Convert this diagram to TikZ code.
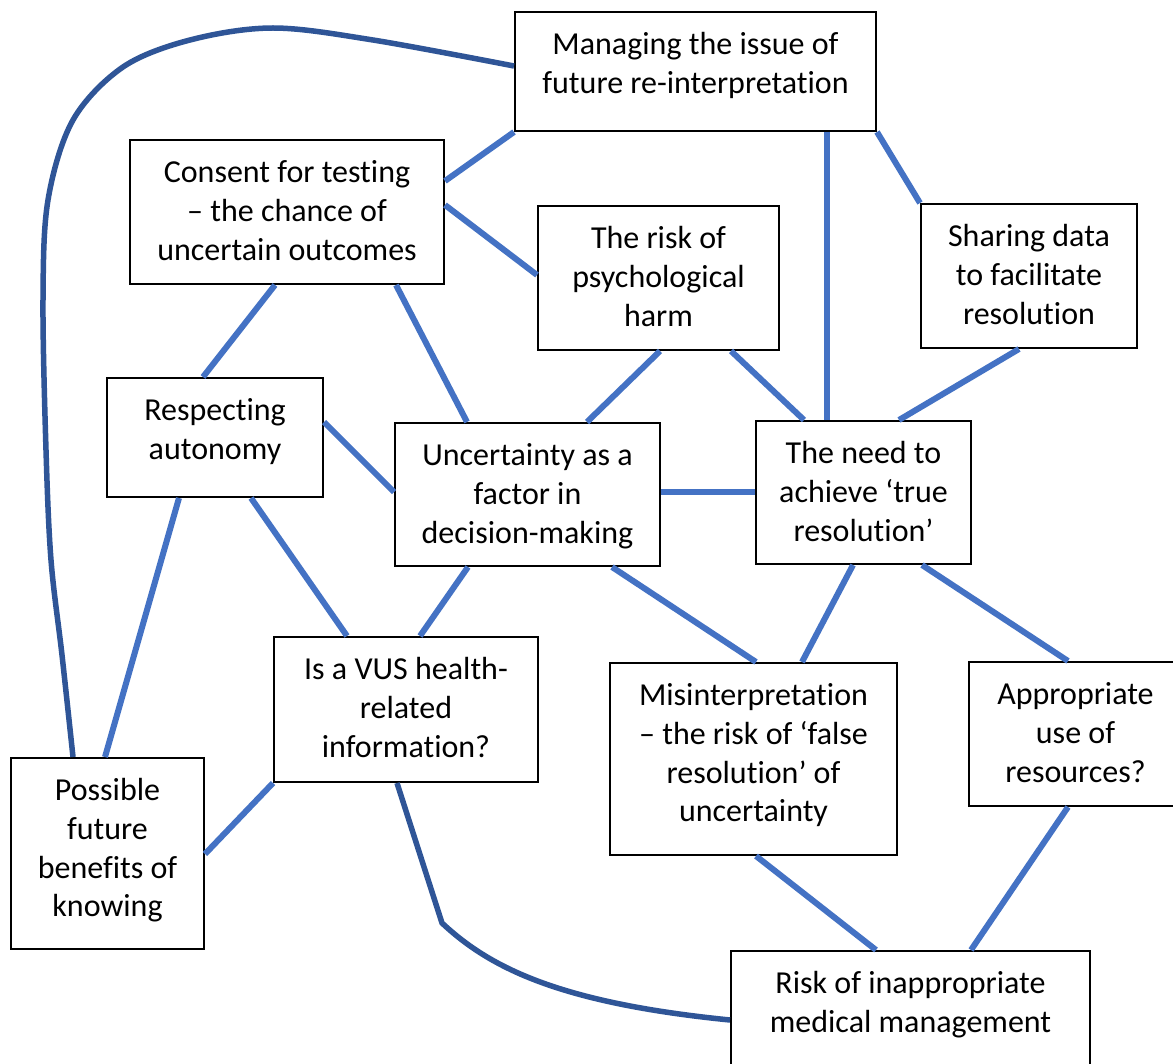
\documentclass[tikz,border=0pt]{standalone}
\usepackage{fontspec}
\setmainfont{Carlito}[Ligatures=NoCommon]
\definecolor{lb}{HTML}{4472C4}
\definecolor{db}{HTML}{2F5597}
\newcommand{\bxt}[3]{\parbox[c][#2pt][t]{#1pt}{\fontsize{32}{38.8}\selectfont\centering\rule{0pt}{42.5pt}#3}}
\tikzset{
  bx/.style={draw=black, line width=2pt, inner sep=0pt},
  ln/.style={draw=lb, line width=6pt},
  dk/.style={draw=db, line width=5.5pt}
}
\begin{document}
\begin{tikzpicture}[x=1pt,y=-1pt]
\clip (0,0) rectangle (1173,1064);
\fill[white] (0,0) rectangle (1173,1064);
% boxes
\node[bx] (mg) at (695.5,71.5) {\bxt{361}{119}{Managing the issue of\\future re-interpretation}};
\node[bx] (cs) at (287,212) {\bxt{314}{144}{Consent for testing\\– the chance of\\uncertain outcomes}};
\node[bx] (rp) at (658.5,278) {\bxt{241}{144}{The risk of\\psychological\\harm}};
\node[bx] (sd) at (1029,276) {\bxt{216}{144}{Sharing data\\to facilitate\\resolution}};
\node[bx] (ra) at (215,437.5) {\bxt{216}{119}{Respecting\\autonomy}};
\node[bx] (un) at (527.5,494.5) {\bxt{265}{143}{Uncertainty as a\\factor in\\decision-making}};
\node[bx] (nd) at (863.5,492.5) {\bxt{215}{143}{The need to\\achieve ‘true\\resolution’}};
\node[bx] (vus) at (406,709.5) {\bxt{264}{145}{Is a VUS health-\\related\\information?}};
\node[bx] (mi) at (753.5,759) {\bxt{287}{192}{Misinterpretation\\– the risk of ‘false\\resolution’ of\\uncertainty}};
\node[bx] (ap) at (1075.5,734) {\bxt{213}{144}{Appropriate\\use of\\resources?}};
\node[bx] (pf) at (107.5,853.5) {\bxt{193}{191}{Possible\\future\\benefits of\\knowing}};
\node[bx] (ri) at (910.5,1015.5) {\bxt{359}{129}{Risk of inappropriate\\medical management}};
% light connectors
\draw[ln] (mg.south west) -- (cs.east |- 0,181);
\draw[ln] (cs.east |- 0,205) -- (rp.west |- 0,275);
\draw[ln] (827,0 |- mg.south) -- (827,0 |- nd.north);
\draw[ln] (mg.south east) -- (sd.north west);
\draw[ln] (275,0 |- cs.south) -- (203,0 |- ra.north);
\draw[ln] (396,0 |- cs.south) -- (467,0 |- un.north);
\draw[ln] (660,0 |- rp.south) -- (587,0 |- un.north);
\draw[ln] (731,0 |- rp.south) -- (804,0 |- nd.north);
\draw[ln] (1019,0 |- sd.south) -- (899,0 |- nd.north);
\draw[ln] (ra.east |- 0,422) -- (un.west |- 0,492);
\draw[ln] (un.east |- 0,492) -- (nd.west |- 0,492);
\draw[ln] (179,0 |- ra.south) -- (105,0 |- pf.north);
\draw[ln] (251,0 |- ra.south) -- (347,0 |- vus.north);
\draw[ln] (468,0 |- un.south) -- (420,0 |- vus.north);
\draw[ln] (612,0 |- un.south) -- (756,0 |- mi.north);
\draw[ln] (853,0 |- nd.south) -- (802,0 |- mi.north);
\draw[ln] (922,0 |- nd.south) -- (1068,0 |- ap.north);
\draw[ln] (vus.south west) -- (pf.east |- 0,854);
\draw[ln] (756,0 |- mi.south) -- (876,0 |- ri.north);
\draw[ln] (1068,0 |- ap.south) -- (971,0 |- ri.north);
% dark connectors
\coordinate (a0) at (mg.west |- 0,66);
\coordinate (a1) at (73,0 |- pf.north);
\draw[dk] plot[smooth, tension=0.55] coordinates {(a0) (373,40) (273,28) (190,40) (123,67) (73,120) (48,200) (43,300) (46,450) (51,560) (62,655) (a1)};
\coordinate (b0) at (397,0 |- vus.south);
\coordinate (b1) at (ri.west |- 0,1020);
\draw[dk] (b0) -- (442,923) .. controls (490,968) and (560,1003) .. (b1);
\end{tikzpicture}
\end{document}
